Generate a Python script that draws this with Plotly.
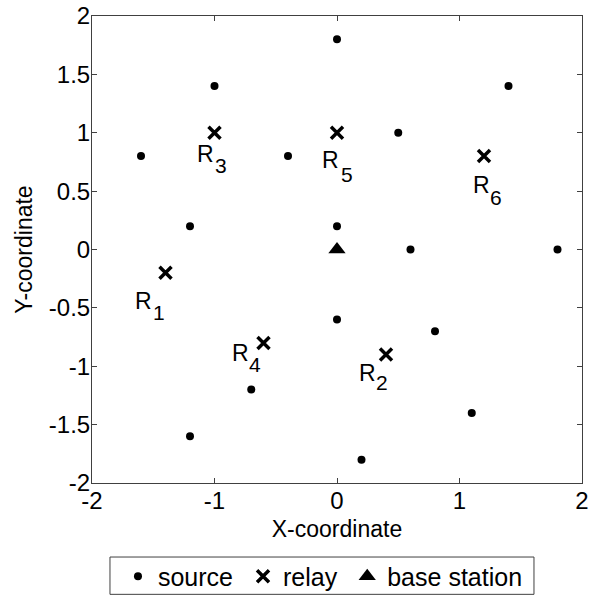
import plotly.graph_objects as go

src_x = [0, -1, 1.4, 0.5, -1.6, -0.4, -1.2, 0, 0.6, 1.8, 0, 0.8, -0.7, 1.1, -1.2, 0.2]
src_y = [1.8, 1.4, 1.4, 1.0, 0.8, 0.8, 0.2, 0.2, 0, 0, -0.6, -0.7, -1.2, -1.4, -1.6, -1.8]
relay_x = [-1.4, 0.4, -1.0, -0.6, 0.0, 1.2]
relay_y = [-0.2, -0.9, 1.0, -0.8, 1.0, 0.8]
relay_names = ["1", "2", "3", "4", "5", "6"]
bs_x = [0]
bs_y = [0]
yticks = [-2, -1.5, -1, -0.5, 0, 0.5, 1, 1.5, 2]
xticks = [-2, -1, 0, 1, 2]
legend_names = ["source", "relay", "base station"]

# label pixel offsets from the relay marker: "R" (dx, dy_down) and subscript (dx, dy_down)
r_off = [(-22.5, 28), (-19, 18), (-9, 21), (-23, 10), (-6.5, 27), (-3, 29)]
s_off = [(-7, 40), (-4, 28), (6, 33), (-8.5, 22), (10, 41.5), (12, 41)]

FONT = "Liberation Sans, Arial, sans-serif"
PAD = "\u2009"

fig = go.Figure()
fig.add_trace(go.Scatter(x=src_x, y=src_y, mode="markers", name=legend_names[0] + PAD,
                         marker=dict(symbol="circle", size=8, color="black")))
fig.add_trace(go.Scatter(x=relay_x, y=relay_y, mode="markers", name=legend_names[1] + PAD,
                         marker=dict(symbol="x-thin-open", size=12, color="black",
                                     line=dict(width=3.5, color="black"))))
fig.add_trace(go.Scatter(x=bs_x, y=bs_y, mode="markers", name=legend_names[2],
                         marker=dict(symbol="triangle-up", size=15, color="black")))

for xv, yv, nm, (rx, ry), (sx, sy) in zip(relay_x, relay_y, relay_names, r_off, s_off):
    fig.add_annotation(x=xv, y=yv, text="R", showarrow=False,
                       xshift=rx, yshift=-ry, font=dict(size=23, color="black", family=FONT))
    fig.add_annotation(x=xv, y=yv, text=nm, showarrow=False,
                       xshift=sx, yshift=-sy, font=dict(size=21, color="black", family=FONT))

axis_common = dict(showline=True, mirror="ticks", linecolor="#404040", linewidth=1,
                   ticks="inside", ticklen=5, tickcolor="#404040",
                   showgrid=False, zeroline=False, automargin=False,
                   tickfont=dict(size=24, color="black", family=FONT),
                   range=[-2, 2])

# legend frame (paper coords computed from plot-area fractions)
fig.add_shape(type="rect", xref="paper", yref="paper",
              x0=0.0367, x1=0.902, y0=-0.2384, y1=-0.1585,
              line=dict(color="#404040", width=1), fillcolor="rgba(0,0,0,0)")

fig.update_layout(
    width=590, height=597,
    margin=dict(l=92, r=8, t=16, b=114, autoexpand=False),
    plot_bgcolor="white", paper_bgcolor="white",
    font=dict(family=FONT, color="black"),
    xaxis=dict(**axis_common, tickvals=xticks, ticktext=[str(t) for t in xticks],
               ticklabelstandoff=-4,
               title=dict(text="X-coordinate", font=dict(size=23), standoff=8)),
    yaxis=dict(**axis_common, tickvals=yticks, ticktext=[("%g" % t) for t in yticks],
               ticklabelstandoff=-4,
               title=dict(text="Y-coordinate", font=dict(size=23), standoff=9)),
    legend=dict(orientation="h", x=0.053, y=-0.2, xanchor="left", yanchor="middle",
                borderwidth=0, bgcolor="rgba(0,0,0,0)",
                font=dict(size=25, color="black", family=FONT),
                itemwidth=30, tracegroupgap=0),
    showlegend=True,
)

fig.write_html("out.html")
